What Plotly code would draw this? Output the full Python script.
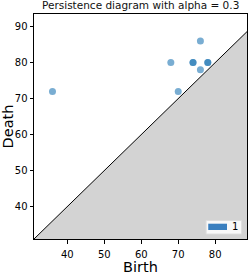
import plotly.graph_objects as go

# Data
births = [36, 68, 70, 74, 74, 76, 76, 78, 78]
deaths = [72, 80, 72, 80, 80, 86, 78, 80, 80]
x_range = [31, 88.6]
y_range = [31, 93.5]
x_ticks = [40, 50, 60, 70, 80]
y_ticks = [40, 50, 60, 70, 80, 90]
legend_label = "1"

lo, hi = x_range

fig = go.Figure()
# shaded region under diagonal
fig.add_trace(go.Scatter(
    x=[lo, hi, hi, lo], y=[lo, hi, lo, lo], mode="lines",
    fill="toself", fillcolor="#d3d3d3", line=dict(width=0),
    hoverinfo="skip", showlegend=False))
# diagonal
fig.add_trace(go.Scatter(
    x=[lo, hi], y=[lo, hi], mode="lines",
    line=dict(color="black", width=1), hoverinfo="skip", showlegend=False))
# points
fig.add_trace(go.Scatter(
    x=births, y=deaths, mode="markers",
    marker=dict(size=7, color="rgba(31,119,180,0.6)", line=dict(width=0)),
    showlegend=False))

font = "DejaVu Sans, sans-serif"
fig.update_layout(
    width=249, height=275,
    margin=dict(l=34, r=1, t=14, b=29),
    plot_bgcolor="white", paper_bgcolor="white",
    font=dict(family=font, size=10, color="black"),
    title=dict(text="Persistence diagram with alpha = 0.3", x=0.565, xanchor="center",
               y=0.98, yanchor="middle", font=dict(size=10.5, color="#111")),
    showlegend=False,
)
fig.update_xaxes(range=x_range, tickvals=x_ticks, showgrid=False, zeroline=False,
                 showline=True, linecolor="black", linewidth=1, mirror=True,
                 ticks="outside", ticklen=3.5, tickcolor="black", ticklabelstandoff=2,
                 title=dict(text="Birth", font=dict(size=14.5), standoff=4))
fig.update_yaxes(range=y_range, tickvals=y_ticks, showgrid=False, zeroline=False,
                 showline=True, linecolor="black", linewidth=1, mirror=True,
                 ticks="outside", ticklen=3.5, tickcolor="black",
                 title=dict(text="Death", font=dict(size=14.5), standoff=2))

# manual legend box
fig.add_shape(type="rect", xref="paper", yref="paper", x0=0.808, x1=0.975, y0=0.022, y1=0.082,
              line=dict(color="#dddddd", width=1), fillcolor="rgba(255,255,255,0.85)")
fig.add_shape(type="rect", xref="paper", yref="paper", x0=0.818, x1=0.906, y0=0.04, y1=0.068,
              line=dict(width=0), fillcolor="#3a7fbf")
fig.add_annotation(text=legend_label, xref="paper", yref="paper", x=0.945, y=0.054,
                   showarrow=False, xanchor="center", yanchor="middle", font=dict(size=10))

fig.write_html("out.html", config={"displayModeBar": False},
               post_script="document.body.style.margin='0px';document.body.style.overflow='hidden';")
